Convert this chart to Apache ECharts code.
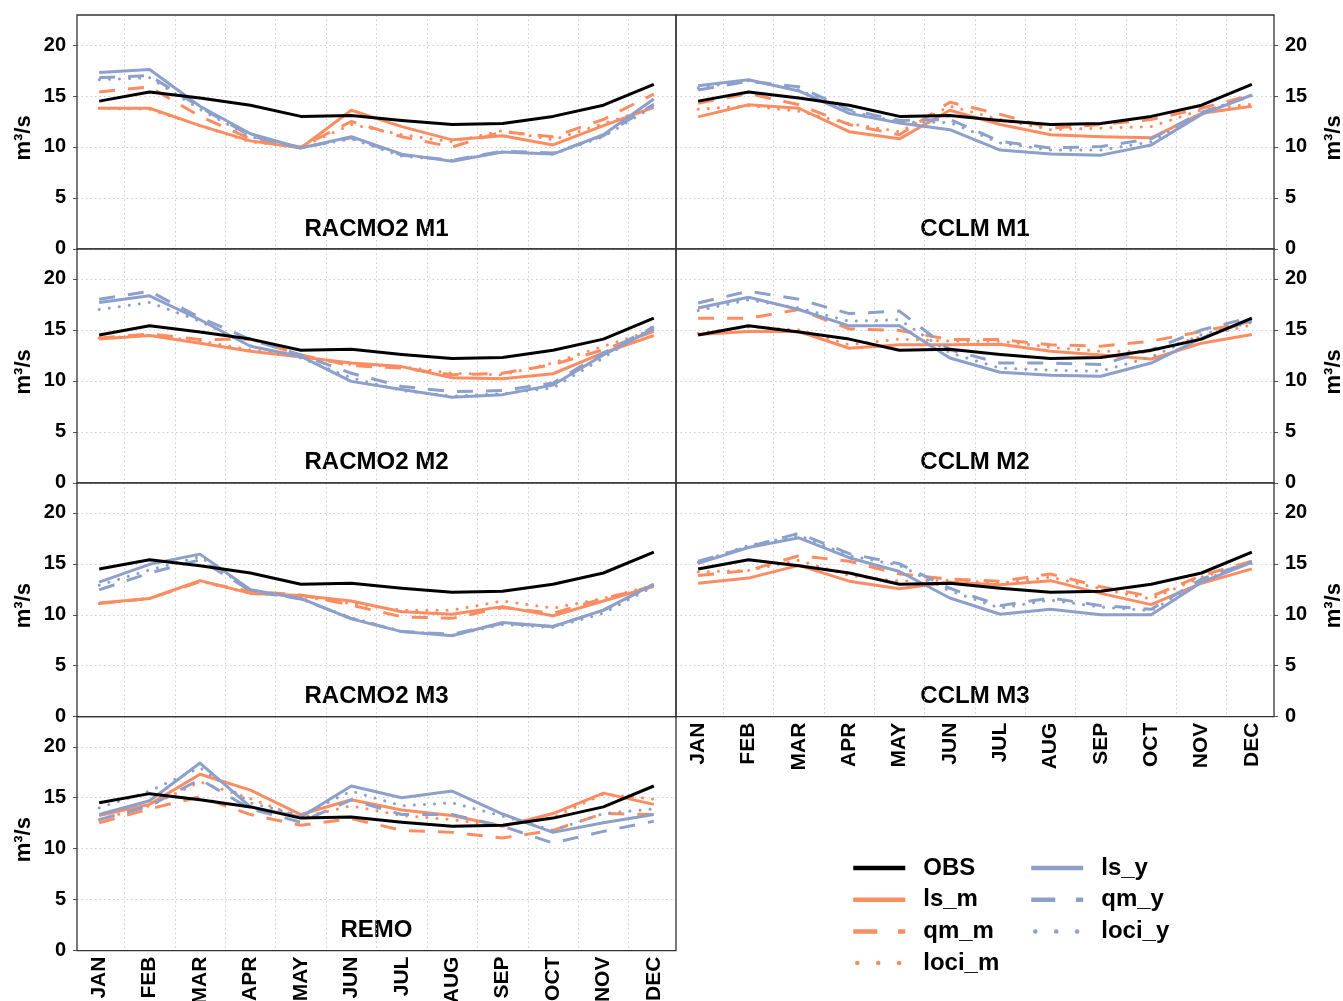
<!DOCTYPE html>
<html>
<head>
<meta charset="utf-8">
<script src="https://cdn.jsdelivr.net/npm/echarts@6/dist/echarts.min.js"></script>
<style>
  html, body { margin: 0; padding: 0; background: #fff; }
  #chart { width: 1343px; height: 1001px; }
</style>
</head>
<body>
<div id="chart"></div>
<script>
// Monthly mean discharge (m³/s): observations and six bias-corrected simulations per RCM run
const MONTHS = ['JAN', 'FEB', 'MAR', 'APR', 'MAY', 'JUN', 'JUL', 'AUG', 'SEP', 'OCT', 'NOV', 'DEC'];
const Y_TICKS = [0, 5, 10, 15, 20];

const OBS = [14.5, 15.4, 14.8, 14.1, 13.0, 13.1, 12.6, 12.2, 12.3, 13.0, 14.1, 16.15];

const RACMO2_M1 = {
  ls_m:   [13.8, 13.8, 12.1, 10.6, 9.9, 13.6, 12.0, 10.7, 11.1, 10.2, 12.1, 13.9],
  qm_m:   [15.4, 15.9, 13.0, 10.8, 10.0, 12.5, 11.0, 10.0, 11.5, 11.0, 12.7, 15.2],
  loci_m: [13.8, 13.7, 12.1, 10.5, 10.0, 12.2, 11.2, 10.5, 11.6, 10.7, 12.3, 13.9],
  ls_y:   [17.3, 17.6, 14.0, 11.3, 9.9, 11.0, 9.3, 8.6, 9.5, 9.3, 11.2, 14.7],
  qm_y:   [16.8, 17.0, 13.9, 11.1, 9.9, 10.9, 9.2, 8.7, 9.6, 9.4, 11.1, 14.2],
  loci_y: [16.6, 16.8, 13.7, 11.0, 9.9, 10.8, 9.1, 8.7, 9.5, 9.3, 11.0, 14.0]
};
const CCLM_M1 = {
  ls_m:   [12.95, 14.15, 13.8, 11.5, 10.8, 13.6, 12.2, 11.2, 11.0, 10.9, 13.3, 14.0],
  qm_m:   [14.3, 15.25, 14.15, 12.2, 11.2, 14.4, 13.2, 11.85, 12.2, 12.7, 13.8, 15.1],
  loci_m: [13.7, 14.05, 13.5, 12.3, 11.5, 14.0, 12.7, 11.7, 11.85, 12.0, 13.65, 14.2],
  ls_y:   [16.0, 16.6, 15.5, 13.3, 12.35, 11.7, 9.7, 9.3, 9.2, 10.2, 13.2, 15.1],
  qm_y:   [15.6, 16.45, 15.9, 13.65, 12.6, 12.7, 10.55, 9.9, 10.05, 10.8, 13.4, 15.0],
  loci_y: [15.8, 16.5, 15.6, 13.5, 12.45, 12.4, 10.4, 9.7, 9.7, 10.5, 13.4, 15.05]
};
const RACMO2_M2 = {
  ls_m:   [14.1, 14.45, 13.7, 12.9, 12.35, 11.75, 11.4, 10.3, 10.2, 10.7, 12.75, 14.45],
  qm_m:   [14.2, 14.6, 14.05, 14.1, 12.55, 11.5, 11.25, 10.6, 10.75, 11.6, 13.05, 14.85],
  loci_m: [14.2, 14.45, 13.9, 13.05, 12.35, 11.6, 11.4, 10.75, 10.6, 11.75, 13.4, 15.0],
  ls_y:   [17.7, 18.35, 16.0, 13.4, 12.4, 9.95, 9.15, 8.4, 8.65, 9.6, 12.55, 15.1],
  qm_y:   [18.0, 18.8, 16.2, 14.05, 12.55, 10.75, 9.45, 8.95, 9.05, 9.8, 12.75, 15.3],
  loci_y: [17.0, 17.7, 15.85, 13.45, 12.25, 10.3, 9.05, 8.5, 8.75, 9.3, 12.25, 15.4]
};
const CCLM_M2 = {
  ls_m:   [14.55, 14.85, 14.85, 13.2, 13.55, 13.55, 13.6, 12.9, 12.55, 12.15, 13.7, 14.55],
  qm_m:   [16.15, 16.15, 17.0, 15.1, 14.95, 14.05, 14.05, 13.55, 13.4, 13.9, 14.85, 15.85],
  loci_m: [14.65, 15.3, 15.0, 13.55, 14.1, 13.9, 13.9, 13.3, 12.9, 12.9, 14.35, 15.5],
  ls_y:   [17.15, 18.2, 17.0, 15.4, 15.4, 12.25, 10.85, 10.55, 10.45, 11.75, 14.2, 16.0],
  qm_y:   [17.65, 18.8, 18.0, 16.6, 16.85, 13.05, 11.75, 11.75, 11.6, 13.05, 15.0, 16.25],
  loci_y: [16.9, 17.95, 17.15, 15.85, 16.0, 12.75, 11.25, 11.05, 10.95, 12.35, 14.55, 15.75]
};
const RACMO2_M3 = {
  ls_m:   [11.15, 11.6, 13.35, 12.1, 11.9, 11.35, 10.3, 10.05, 10.8, 9.9, 11.35, 12.8],
  qm_m:   [11.1, 11.6, 13.25, 12.3, 11.95, 10.95, 9.8, 9.65, 10.7, 10.15, 11.6, 12.8],
  loci_m: [11.1, 11.6, 13.3, 12.1, 11.8, 11.1, 10.45, 10.45, 11.35, 10.65, 11.6, 12.9],
  ls_y:   [13.2, 14.95, 15.95, 12.45, 11.6, 9.6, 8.35, 7.95, 9.25, 8.85, 10.45, 13.0],
  qm_y:   [12.45, 14.1, 15.4, 12.35, 11.55, 9.65, 8.35, 8.1, 9.15, 8.85, 10.45, 12.95],
  loci_y: [12.9, 14.4, 15.7, 12.45, 11.55, 9.7, 8.4, 8.0, 9.05, 8.75, 10.15, 12.8]
};
const CCLM_M3 = {
  ls_m:   [13.1, 13.6, 14.85, 13.3, 12.55, 13.2, 12.95, 13.35, 12.1, 11.0, 13.1, 14.5],
  qm_m:   [13.85, 14.35, 15.8, 15.25, 14.0, 13.5, 13.3, 14.0, 12.75, 11.8, 13.85, 15.25],
  loci_m: [14.2, 14.35, 15.35, 13.85, 13.3, 13.4, 13.1, 13.7, 12.55, 11.55, 13.7, 15.05],
  ls_y:   [15.05, 16.6, 17.55, 15.6, 14.25, 11.65, 10.05, 10.55, 10.0, 10.0, 13.2, 15.15],
  qm_y:   [15.25, 16.65, 18.0, 16.0, 15.0, 12.6, 10.9, 11.65, 10.9, 10.55, 13.5, 15.25],
  loci_y: [15.15, 16.8, 17.8, 15.8, 14.85, 12.35, 10.65, 11.45, 10.75, 10.4, 13.35, 15.15]
};
const REMO = {
  ls_m:   [13.25, 14.35, 17.3, 15.75, 13.35, 14.8, 13.8, 13.25, 12.2, 13.45, 15.45, 14.35],
  qm_m:   [12.55, 13.9, 15.1, 13.35, 12.3, 12.95, 11.8, 11.6, 11.05, 11.8, 13.45, 13.35],
  loci_m: [12.85, 14.2, 16.55, 14.9, 13.05, 14.2, 13.25, 12.85, 12.2, 13.05, 15.35, 14.85],
  ls_y:   [13.35, 14.7, 18.4, 14.1, 13.1, 16.15, 15.0, 15.65, 13.4, 11.6, 12.55, 13.35],
  qm_y:   [12.85, 14.2, 16.8, 13.9, 12.6, 14.8, 13.35, 13.35, 12.2, 10.55, 11.7, 12.7],
  loci_y: [14.0, 15.65, 17.95, 14.5, 13.25, 15.65, 14.2, 14.5, 13.2, 11.8, 13.45, 13.9]
};

const PANELS = [
  { title: 'RACMO2 M1', col: 0, row: 0, data: RACMO2_M1 },
  { title: 'CCLM M1',   col: 1, row: 0, data: CCLM_M1 },
  { title: 'RACMO2 M2', col: 0, row: 1, data: RACMO2_M2 },
  { title: 'CCLM M2',   col: 1, row: 1, data: CCLM_M2 },
  { title: 'RACMO2 M3', col: 0, row: 2, data: RACMO2_M3 },
  { title: 'CCLM M3',   col: 1, row: 2, data: CCLM_M3, xLabels: true },
  { title: 'REMO',      col: 0, row: 3, data: REMO, xLabels: true }
];

// Layout
const FONT = '"Liberation Sans", Arial, Helvetica, sans-serif';
const ORANGE = '#FC8D62';
const BLUE = '#8DA0CB';
const COL_LEFT = [77, 676];
const COL_WIDTH = [599, 598];
const ROW_TOP = 15;
const ROW_H = 233.9;
const DASH = [16, 13];
const DOT = [0.1, 10];

const STYLES = {
  OBS:    { color: '#000000', type: 'solid' },
  ls_m:   { color: ORANGE, type: 'solid' },
  qm_m:   { color: ORANGE, type: DASH },
  loci_m: { color: ORANGE, type: DOT, cap: 'round' },
  ls_y:   { color: BLUE, type: 'solid' },
  qm_y:   { color: BLUE, type: DASH },
  loci_y: { color: BLUE, type: DOT, cap: 'round' }
};
const SERIES_ORDER = ['OBS', 'ls_m', 'qm_m', 'loci_m', 'ls_y', 'qm_y', 'loci_y'];

const MONTH_POS = MONTHS.map((m, i) => i + 1);
const MID_POS = MONTHS.slice(1).map((m, i) => i + 1.5);
const gridLine = { show: true, lineStyle: { color: '#cccccc', width: 1, type: [1.5, 3] } };

const grids = [], xAxes = [], yAxes = [], series = [], graphics = [];

PANELS.forEach((p, i) => {
  const left = COL_LEFT[p.col];
  const width = COL_WIDTH[p.col];
  const top = ROW_TOP + p.row * ROW_H;
  grids.push({
    left: left, top: top, width: width, height: ROW_H, z: 5,
    show: true, borderColor: '#333333', borderWidth: 1.3,
    backgroundColor: 'transparent', containLabel: false, outerBoundsMode: 'none'
  });
  xAxes.push({
    gridIndex: i, type: 'value', min: 0.56, max: 12.44,
    axisLine: { show: false },
    axisTick: { show: false, customValues: MID_POS },
    splitLine: gridLine,
    axisLabel: {
      show: !!p.xLabels, customValues: MONTH_POS,
      formatter: v => MONTHS[Math.round(v) - 1],
      rotate: 90, margin: 6, fontSize: 21, fontWeight: 'bold', color: '#000', fontFamily: FONT
    }
  });
  yAxes.push({
    gridIndex: i, type: 'value', min: 0, max: 22.95,
    position: p.col === 0 ? 'left' : 'right',
    axisLine: { show: false },
    axisTick: { show: true, length: 4, customValues: Y_TICKS, lineStyle: { color: '#555', width: 1 } },
    splitLine: gridLine,
    axisLabel: {
      customValues: Y_TICKS, margin: 11, fontSize: 20, fontWeight: 'bold',
      color: '#000', fontFamily: FONT
    }
  });
  SERIES_ORDER.forEach(key => {
    const vals = key === 'OBS' ? OBS : p.data[key];
    const st = STYLES[key];
    series.push({
      name: key, type: 'line', xAxisIndex: i, yAxisIndex: i,
      data: vals.map((v, k) => [MONTH_POS[k], v]),
      symbol: 'none', silent: true, animation: false,
      z: key === 'OBS' ? 3 : 2,
      lineStyle: { color: st.color, width: 3, type: st.type, cap: st.cap || 'butt', join: 'round' },
      itemStyle: { color: st.color }
    });
  });
  // panel title
  graphics.push({
    type: 'text', x: left + width / 2, y: top + ROW_H - 20, silent: true,
    style: {
      text: p.title, fill: '#000', font: 'bold 24px ' + FONT,
      textAlign: 'center', textVerticalAlign: 'middle'
    }
  });
  // axis unit label
  graphics.push({
    type: 'text', x: p.col === 0 ? 24 : 1334, y: top + ROW_H / 2 + 6, rotation: Math.PI / 2, silent: true,
    style: {
      text: 'm³/s', fill: '#000', font: 'bold 22px ' + FONT,
      textAlign: 'center', textVerticalAlign: 'middle'
    }
  });
});

function legendItem(name, lineType, cap, offset) {
  return { name: name, lineStyle: { type: lineType, cap: cap, dashOffset: offset || 0 } };
}
const legendBase = {
  orient: 'vertical', top: 851, itemWidth: 52, itemHeight: 24, itemGap: 7.7,
  selectedMode: false, icon: 'inherit',
  itemStyle: { opacity: 0 }, lineStyle: { width: 4.5 },
  textStyle: { fontSize: 24, fontWeight: 'bold', color: '#000', fontFamily: FONT, padding: [0, 0, 0, 13] }
};

const option = {
  animation: false,
  backgroundColor: '#ffffff',
  grid: grids,
  xAxis: xAxes,
  yAxis: yAxes,
  series: series,
  graphic: graphics,
  legend: [
    Object.assign({}, legendBase, {
      left: 846,
      data: [
        legendItem('OBS', 'solid', 'butt'),
        legendItem('ls_m', 'solid', 'butt'),
        legendItem('qm_m', [24, 20.7], 'butt'),
        legendItem('loci_m', [0.1, 20.8], 'round', -4)
      ]
    }),
    Object.assign({}, legendBase, {
      left: 1024,
      data: [
        legendItem('ls_y', 'solid', 'butt'),
        legendItem('qm_y', [24, 20.7], 'butt'),
        legendItem('loci_y', [0.1, 20.8], 'round', -4)
      ]
    })
  ]
};

const chart = echarts.init(document.getElementById('chart'), null, { renderer: 'canvas' });
chart.setOption(option);
</script>
</body>
</html>
